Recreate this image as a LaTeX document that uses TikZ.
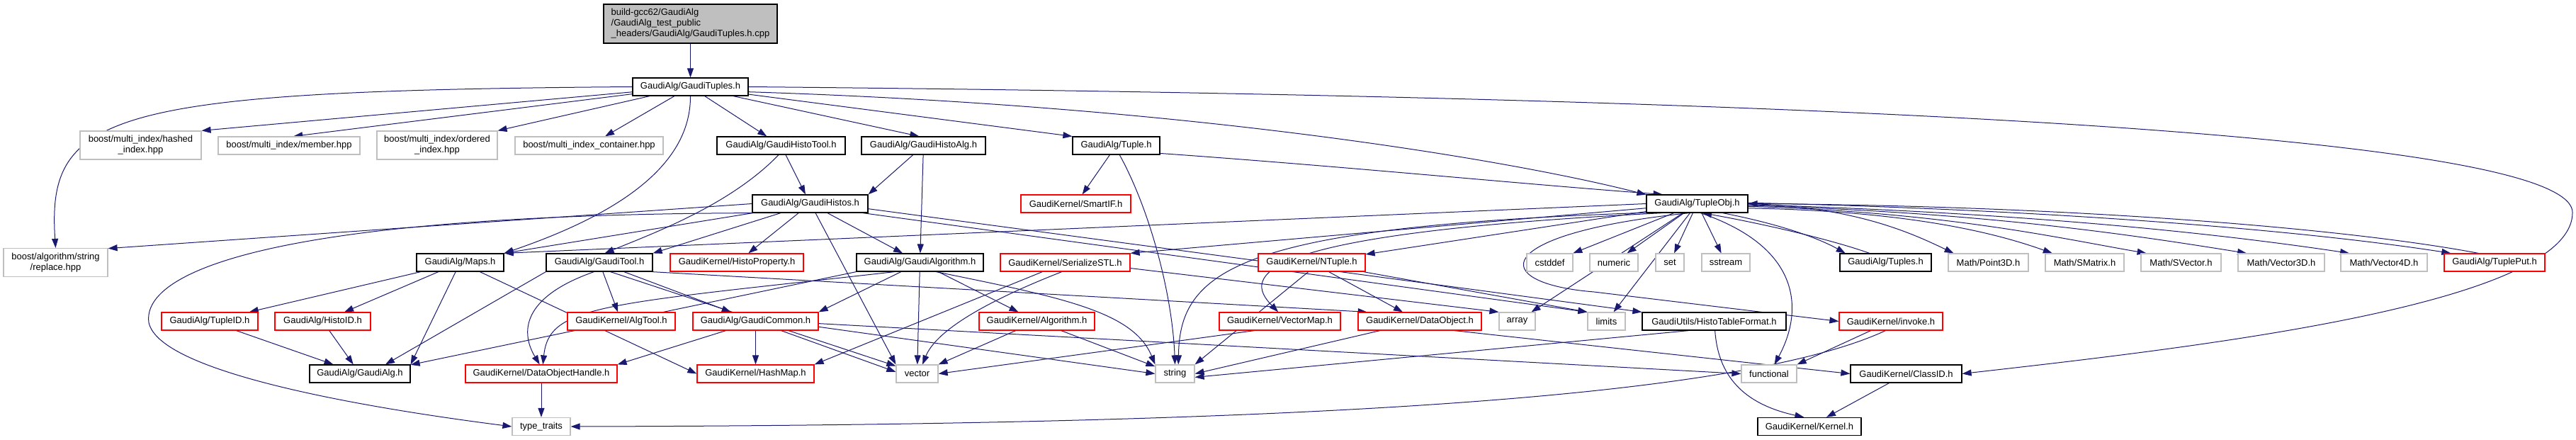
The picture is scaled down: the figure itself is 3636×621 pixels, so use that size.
\documentclass[tikz,border=0pt]{standalone}
\usepackage{fontspec}
\setmainfont{Liberation Sans}
\usetikzlibrary{arrows.meta}
\pgfdeclarelayer{bg}
\pgfsetlayers{bg,main}
\definecolor{edgec}{HTML}{191970}
\definecolor{graybd}{HTML}{BFBFBF}
\definecolor{redbd}{HTML}{FF0000}
\tikzset{
  nb/.style={fill=white, line width=1.2pt, inner xsep=3pt, inner ysep=0pt, minimum height=25pt,
             font=\fontsize{13}{15}\selectfont, align=center},
  bbox/.style={nb, draw=black},
  rbox/.style={nb, draw=redbd},
  gbox/.style={nb, draw=graybd},
  dep/.style={draw=edgec, line width=1pt, -{Triangle[length=13pt,width=9pt]}}
}
\begin{document}
\begin{tikzpicture}[x=1pt,y=-1pt]
\useasboundingbox (0,0) rectangle (3636,621);
% rank 1-2
\node[bbox, fill=graybd, minimum width=245pt, minimum height=55pt, align=left] (root) at (974.5,33.5)
  {build-gcc62/GaudiAlg\\/GaudiAlg\_test\_public\\\_headers/GaudiAlg/GaudiTuples.h.cpp};
\node[bbox, minimum width=163pt] (GT) at (974.5,122.5) {GaudiAlg/GaudiTuples.h};
% rank 3
\node[gbox, minimum width=171pt, minimum height=40pt] (hashed) at (198.5,205) {boost/multi\_index/hashed\\\_index.hpp};
\node[gbox, minimum width=200pt] (member) at (408,205.5) {boost/multi\_index/member.hpp};
\node[gbox, minimum width=170pt, minimum height=40pt] (ordered) at (617,205) {boost/multi\_index/ordered\\\_index.hpp};
\node[gbox, minimum width=209pt] (mic) at (831.5,205.5) {boost/multi\_index\_container.hpp};
\node[bbox, minimum width=181pt] (HTool) at (1102.5,205.5) {GaudiAlg/GaudiHistoTool.h};
\node[bbox, minimum width=175pt] (HAlg) at (1303.5,205.5) {GaudiAlg/GaudiHistoAlg.h};
\node[bbox, minimum width=123pt] (Tuple) at (1575.5,205.5) {GaudiAlg/Tuple.h};
% rank 4
\node[bbox, minimum width=163pt] (Histos) at (1143.5,287.5) {GaudiAlg/GaudiHistos.h};
\node[rbox, minimum width=155pt] (SmartIF) at (1518.5,287.5) {GaudiKernel/SmartIF.h};
\node[bbox, minimum width=143pt] (TupleObj) at (2395.5,287.5) {GaudiAlg/TupleObj.h};
% rank 5
\node[gbox, minimum width=147pt, minimum height=40pt] (replace) at (78.5,370.5) {boost/algorithm/string\\/replace.hpp};
\node[bbox, minimum width=123pt] (Maps) at (649.5,370.5) {GaudiAlg/Maps.h};
\node[bbox, minimum width=150pt] (GTool) at (846,370.5) {GaudiAlg/GaudiTool.h};
\node[rbox, minimum width=188pt] (HProp) at (1040,370.5) {GaudiKernel/HistoProperty.h};
\node[bbox, minimum width=179pt] (GAlgo) at (1298.5,370.5) {GaudiAlg/GaudiAlgorithm.h};
\node[rbox, minimum width=183pt] (Ser) at (1503.5,370.5) {GaudiKernel/SerializeSTL.h};
\node[rbox, minimum width=151pt] (NTuple) at (1851.5,370.5) {GaudiKernel/NTuple.h};
\node[gbox, minimum width=65pt] (cstddef) at (2187.5,370.5) {cstddef};
\node[gbox, minimum width=68pt] (numeric) at (2278,370.5) {numeric};
\node[gbox, minimum width=40pt] (set) at (2357,370.5) {set};
\node[gbox, minimum width=68pt] (sstream) at (2436,370.5) {sstream};
\node[bbox, minimum width=129pt] (Tuples) at (2661.5,370.5) {GaudiAlg/Tuples.h};
\node[gbox, minimum width=113pt] (P3D) at (2806.5,370.5) {Math/Point3D.h};
\node[gbox, minimum width=111pt] (SMat) at (2942.5,370.5) {Math/SMatrix.h};
\node[gbox, minimum width=113pt] (SVec) at (3078.5,370.5) {Math/SVector.h};
\node[gbox, minimum width=122pt] (V3D) at (3220,370.5) {Math/Vector3D.h};
\node[gbox, minimum width=122pt] (V4D) at (3365,370.5) {Math/Vector4D.h};
\node[rbox, minimum width=142pt] (TPut) at (3521,370.5) {GaudiAlg/TuplePut.h};
% rank 6
\node[rbox, minimum width=136pt] (TupleID) at (296,453.5) {GaudiAlg/TupleID.h};
\node[rbox, minimum width=135pt] (HistoID) at (455.5,453.5) {GaudiAlg/HistoID.h};
\node[rbox, minimum width=152pt] (AlgTool) at (877,453.5) {GaudiKernel/AlgTool.h};
\node[rbox, minimum width=177pt] (GCommon) at (1066.5,453.5) {GaudiAlg/GaudiCommon.h};
\node[rbox, minimum width=163pt] (Algorithm) at (1463.5,453.5) {GaudiKernel/Algorithm.h};
\node[rbox, minimum width=171pt] (VecMap) at (1806.5,453.5) {GaudiKernel/VectorMap.h};
\node[rbox, minimum width=174pt] (DataObj) at (2004,453.5) {GaudiKernel/DataObject.h};
\node[gbox, minimum width=51pt] (array) at (2141.5,453.5) {array};
\node[gbox, minimum width=53pt] (limits) at (2267.5,453.5) {limits};
\node[bbox, minimum width=203pt] (HTF) at (2419.5,453.5) {GaudiUtils/HistoTableFormat.h};
\node[rbox, minimum width=146pt] (invoke) at (2669,453.5) {GaudiKernel/invoke.h};
% rank 7
\node[bbox, minimum width=142pt] (GAlg) at (508,527.5) {GaudiAlg/GaudiAlg.h};
\node[rbox, minimum width=214pt] (DOH) at (764,527.5) {GaudiKernel/DataObjectHandle.h};
\node[rbox, minimum width=165pt] (HashMap) at (1066.5,527.5) {GaudiKernel/HashMap.h};
\node[gbox, minimum width=59pt] (vector) at (1294.5,527.5) {vector};
\node[gbox, minimum width=55pt] (string) at (1658.5,527.5) {string};
\node[gbox, minimum width=78pt] (functional) at (2497,527.5) {functional};
\node[bbox, minimum width=157pt] (ClassID) at (2690.5,527.5) {GaudiKernel/ClassID.h};
% rank 8
\node[gbox, minimum width=82pt] (ttraits) at (764,602) {type\_traits};
\node[bbox, minimum width=146pt] (Kernel) at (2554,602) {GaudiKernel/Kernel.h};

\begin{pgfonlayer}{bg}
\draw[dep] (root) -- (GT);
% GaudiTuples
\draw[dep] (GT.west) .. controls (150,128) and (66,160) .. (replace.north);
\draw[dep] (GT) -- (hashed.north east);
\draw[dep] (GT) -- (member.65);
\draw[dep] (GT) -- (ordered.north east);
\draw[dep] (GT) -- (mic);
\draw[dep] (GT) -- (HTool);
\draw[dep] (GT) -- (HAlg.115);
\draw[dep] (GT) -- (Tuple.north west);
\draw[dep] (GT.-5) .. controls (1700,150) and (2150,230) .. (TupleObj.170);
\draw[dep] (GT.south) .. controls (975,230) and (880,300) .. (Maps.north east);
\draw[dep] (GT.east) .. controls (2400,135) and (3631,180) .. (3631,300)
   .. controls (3631,430) and (3100,490) .. (ClassID.east);
% HistoTool, HistoAlg, Tuple
\draw[dep] (HTool) -- (Histos);
\draw[dep] (HTool.255) .. controls (1030,290) and (920,330) .. (GTool.60);
\draw[dep] (HAlg) -- (Histos.north east);
\draw[dep] (HAlg) -- (GAlgo);
\draw[dep] (Tuple) -- (SmartIF);
\draw[dep] (Tuple.290) .. controls (1625,300) and (1655,420) .. (string.north);
\draw[dep] (Tuple.-10) .. controls (1900,235) and (2150,260) .. (TupleObj.165);
% GaudiHistos
\draw[dep] (Histos.west) -- (replace.15);
\draw[dep] (Histos.195) .. controls (400,300) and (200,380) .. (210,455)
   .. controls (225,530) and (550,580) .. (ttraits.west);
\draw[dep] (Histos) -- (Maps.north east);
\draw[dep] (Histos) -- (GTool.north east);
\draw[dep] (Histos) -- (HProp);
\draw[dep] (Histos) -- (GAlgo);
\draw[dep] (Histos.-60) -- (vector.north west);
\draw[dep] (Histos.-10) -- (limits.north west);
\draw[dep] (Histos.-5) -- (HTF.north west);
% Maps etc
\draw[dep] (Maps) -- (TupleID);
\draw[dep] (Maps) -- (HistoID);
\draw[dep] (Maps) -- (GAlg.north east);
\draw[dep] (Maps) -- (HashMap.west);
\draw[dep] (TupleID) -- (GAlg);
\draw[dep] (HistoID) -- (GAlg);
% GaudiTool
\draw[dep] (GTool.south west) -- (GAlg.20);
\draw[dep] (GTool.240) .. controls (735,420) and (735,470) .. (DOH.100);
\draw[dep] (GTool) -- (AlgTool);
\draw[dep] (GTool) -- (GCommon);
\draw[dep] (GTool.-40) -- (vector.160);
\draw[dep] (GTool.-10) -- (DataObj.170);
% GaudiAlgorithm
\draw[dep] (GAlgo.south west) -- (GAlg.10);
\draw[dep] (GAlgo.200) .. controls (850,430) and (775,430) .. (DOH.80);
\draw[dep] (GAlgo) -- (GCommon.north east);
\draw[dep] (GAlgo) -- (Algorithm);
\draw[dep] (GAlgo) -- (vector);
\draw[dep] (GAlgo.-30) .. controls (1500,420) and (1600,440) .. (string.north west);
% GaudiCommon
\draw[dep] (GCommon) -- (DOH.north east);
\draw[dep] (GCommon) -- (HashMap);
\draw[dep] (GCommon.-20) -- (vector.175);
\draw[dep] (GCommon.-5) -- (string.west);
\draw[dep] (GCommon.-2) -- (functional.west);
% others
\draw[dep] (Ser) -- (HashMap.north east);
\draw[dep] (Ser.250) .. controls (1380,430) and (1320,470) .. (vector.60);
\draw[dep] (Ser.-5) -- (array.north west);
\draw[dep] (Algorithm) -- (vector.north east);
\draw[dep] (Algorithm) -- (string.160);
\draw[dep] (NTuple) -- (DataObj);
\draw[dep] (NTuple) -- (limits.north west);
\draw[dep] (NTuple.250) -- (string.north east);
\draw[dep] (VecMap.200) -- (vector.east);
\draw[dep] (DataObj) -- (string.east);
\draw[dep] (DataObj.-15) -- (ClassID.west);
\draw[dep] (HTF.200) -- (string.-10);
\draw[dep] (HTF.-85) .. controls (2425,530) and (2460,570) .. (Kernel.120);
\draw[dep] (invoke) -- (functional.north east);
\draw[dep] (invoke.240) .. controls (2450,565) and (1800,600) .. (ttraits.east);
\draw[dep] (ClassID) -- (Kernel);
\draw[dep] (DOH) -- (ttraits);
% TupleObj
\draw[dep] (TupleObj.west) -- (Maps.north east);
\draw[dep] (TupleObj) -- (Ser.north east);
\draw[dep] (TupleObj) -- (NTuple);
\draw[dep] (TupleObj.195) .. controls (1760,330) and (1755,390) .. (VecMap.100);
\draw[dep] (TupleObj.190) .. controls (1750,320) and (1665,380) .. (string.70);
\draw[dep] (TupleObj) -- (array);
\draw[dep] (TupleObj) -- (limits);
\draw[dep] (TupleObj) -- (cstddef);
\draw[dep] (TupleObj) -- (numeric);
\draw[dep] (TupleObj) -- (set);
\draw[dep] (TupleObj) -- (sstream);
\draw[dep] (TupleObj.-20) .. controls (2520,318) and (2570,338) .. (Tuples.167);
\draw[dep] (Tuples.150) .. controls (2590,340) and (2500,318) .. (TupleObj.-60);
\draw[dep] (TupleObj.east) .. controls (2620,292) and (2700,330) .. (P3D.165);
\draw[dep] (TupleObj.-5) .. controls (2700,298) and (2820,330) .. (SMat.164);
\draw[dep] (TupleObj.-3) .. controls (2750,300) and (2900,335) .. (SVec.165);
\draw[dep] (TupleObj.-2) .. controls (2800,300) and (3000,330) .. (V3D.165);
\draw[dep] (TupleObj.-1) .. controls (2850,300) and (3120,328) .. (V4D.165);
\draw[dep] (TupleObj.1) .. controls (2900,296) and (3250,325) .. (TPut.168);
\draw[dep] (TPut.150) .. controls (3300,320) and (2900,290) .. (TupleObj.east);
\draw[dep] (TupleObj.230) .. controls (2100,330) and (2100,400) .. (2250,412) -- (invoke.west);
\draw[dep] (TupleObj.-70) .. controls (2545,350) and (2545,440) .. (functional.60);
\end{pgfonlayer}
\end{tikzpicture}
\end{document}
